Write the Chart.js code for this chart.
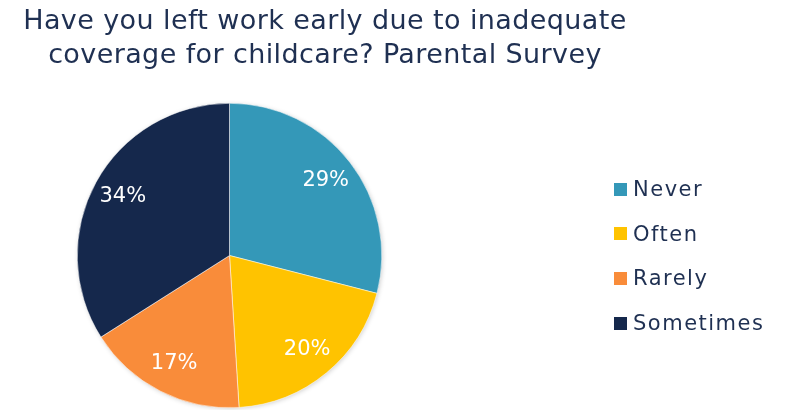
<!DOCTYPE html>
<html>
<head>
<meta charset="utf-8">
<script src="https://cdn.jsdelivr.net/npm/chart.js@4/dist/chart.umd.min.js"></script>
<style>
  html, body { margin: 0; padding: 0; background: #fff; }
  #wrap { position: relative; width: 789px; height: 410px; overflow: hidden; font-family: "DejaVu Sans", sans-serif; color: #1f3052; }
  #chart { position: absolute; left: 0; top: 0; }
  #title {
    position: absolute; left: 0; top: 3px; width: 650px;
    text-align: center; font-size: 27px; line-height: 34px; letter-spacing: 0.4px;
  }
  #legend { position: absolute; left: 614px; top: 167px; margin: 0; padding: 0; list-style: none; }
  #legend li { display: flex; align-items: center; height: 44.6px; font-size: 21px; letter-spacing: 1.5px; }
  #legend .box { width: 13px; height: 13px; margin-right: 6px; flex: none; }
</style>
</head>
<body>
<div id="wrap">
  <canvas id="chart" width="789" height="410"></canvas>
  <div id="title">Have you left work early due to inadequate<br>coverage for childcare? Parental Survey</div>
  <ul id="legend"></ul>
</div>
<script>
// Survey answers (percent of parents)
const categories = ['Never', 'Often', 'Rarely', 'Sometimes'];
const shares = [29, 20, 17, 34];
const sliceColors = ['#3498b8', '#ffc300', '#f98c3a', '#15284c'];

// soft shadow under the whole pie
const pieShadow = {
  id: 'pieShadow',
  beforeDatasetsDraw(chart) {
    const arc = chart.getDatasetMeta(0).data[0];
    if (!arc) return;
    const { x, y, outerRadius } = arc.getProps(['x', 'y', 'outerRadius'], true);
    const ctx = chart.ctx;
    ctx.save();
    ctx.shadowColor = 'rgba(0, 0, 0, 0.22)';
    ctx.shadowBlur = 5;
    ctx.shadowOffsetX = 1;
    ctx.shadowOffsetY = 1;
    ctx.fillStyle = '#fff';
    ctx.beginPath();
    ctx.arc(x, y, outerRadius - 0.5, 0, Math.PI * 2);
    ctx.fill();
    ctx.restore();
  }
};

// percent labels inside each slice
const sliceLabels = {
  id: 'sliceLabels',
  afterDatasetsDraw(chart) {
    const ctx = chart.ctx;
    const data = chart.data.datasets[0].data;
    ctx.save();
    ctx.fillStyle = '#ffffff';
    ctx.font = '21px "DejaVu Sans", sans-serif';
    ctx.textAlign = 'center';
    ctx.textBaseline = 'middle';
    chart.getDatasetMeta(0).data.forEach((arc, i) => {
      const p = arc.getProps(['x', 'y', 'startAngle', 'endAngle', 'outerRadius'], true);
      const mid = (p.startAngle + p.endAngle) / 2;
      const r = p.outerRadius * 0.8;
      ctx.fillText(data[i] + '%', p.x + Math.cos(mid) * r, p.y + Math.sin(mid) * r);
    });
    ctx.restore();
  }
};

const chart = new Chart(document.getElementById('chart'), {
  type: 'pie',
  data: {
    labels: categories,
    datasets: [{
      data: shares,
      backgroundColor: sliceColors,
      borderColor: '#ffffff',
      borderWidth: 0.5,
      hoverOffset: 0
    }]
  },
  options: {
    responsive: false,
    animation: false,
    layout: {
      padding: { left: 77, right: 407, top: 103, bottom: 2 }
    },
    plugins: {
      legend: { display: false },
      tooltip: { enabled: false }
    }
  },
  plugins: [pieShadow, sliceLabels]
});

// build the legend list from the chart's own legend items
const legendEl = document.getElementById('legend');
chart.options.plugins.legend.labels.generateLabels(chart).forEach(item => {
  const li = document.createElement('li');
  const box = document.createElement('span');
  box.className = 'box';
  box.style.background = item.fillStyle;
  li.appendChild(box);
  li.appendChild(document.createTextNode(item.text));
  legendEl.appendChild(li);
});
</script>
</body>
</html>
